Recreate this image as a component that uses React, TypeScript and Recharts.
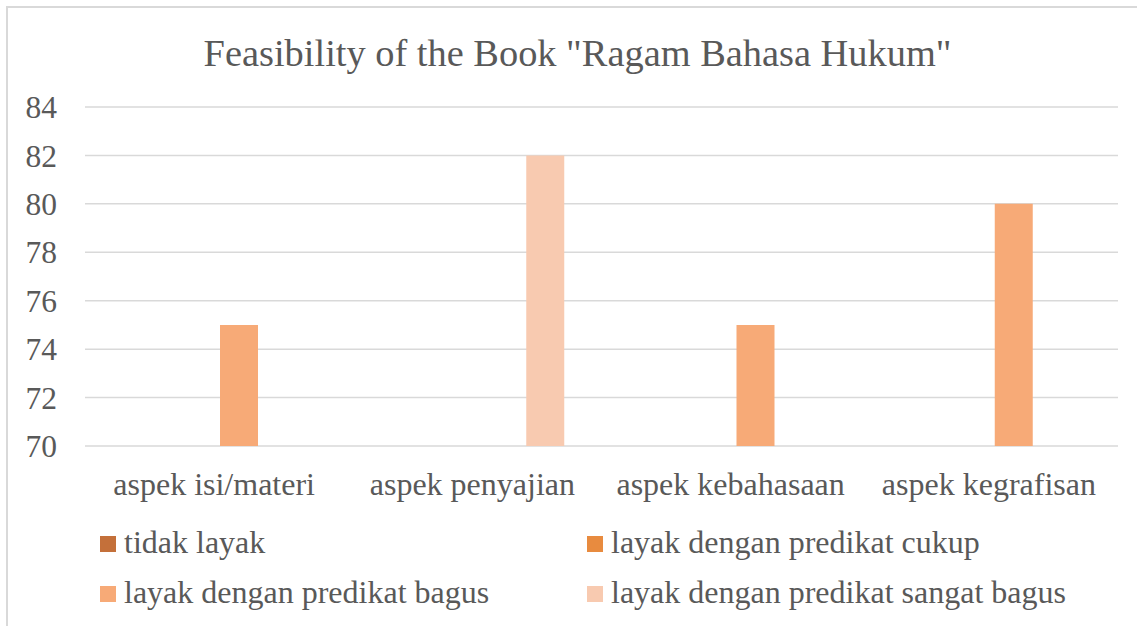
import React from 'react';
import { BarChart, Bar, XAxis, YAxis, CartesianGrid, Legend } from 'recharts';

// categories and per-series values (null = no bar in that slot)
const categories = ['aspek isi/materi', 'aspek penyajian', 'aspek kebahasaan', 'aspek kegrafisan'];
const tidakLayak: (number | null)[] = [null, null, null, null];
const cukup: (number | null)[] = [null, null, null, null];
const bagus: (number | null)[] = [75, null, 75, 80];
const sangatBagus: (number | null)[] = [null, 82, null, null];
const yTicks = [70, 72, 74, 76, 78, 80, 82, 84];

const seriesNames = [
    'tidak layak',
    'layak dengan predikat cukup',
    'layak dengan predikat bagus',
    'layak dengan predikat sangat bagus',
];
const seriesValues = [tidakLayak, cukup, bagus, sangatBagus];
const seriesColors = ['#C4703A', '#E88B3F', '#F7AA77', '#F8CAB0'];

const data = categories.map((name, i) => {
    const row: Record<string, string | number | null> = { name };
    seriesValues.forEach((vals, s) => {
        row['s' + s] = vals[i];
    });
    return row;
});

const FONT = 'Liberation Serif';
const TEXT = '#595959';

// legend laid out as 2x2 grid like the original, in series order
const LegendGrid = ({ payload }: any) => {
    const items = [...(payload || [])].sort(
        (a: any, b: any) => seriesNames.indexOf(a.value) - seriesNames.indexOf(b.value)
    );
    return (
        <div style={{ position: 'relative', width: 1137, height: 111, fontFamily: FONT }}>
            {items.map((entry: any, i: number) => {
                const col = i % 2;
                const row = Math.floor(i / 2);
                const left = col === 0 ? 100 : 587;
                const top = row * 50;
                return (
                    <React.Fragment key={i}>
                        <div
                            style={{
                                position: 'absolute',
                                left,
                                top: top + 21,
                                width: 16,
                                height: 16,
                                backgroundColor: entry.color,
                            }}
                        />
                        <div
                            style={{
                                position: 'absolute',
                                left: left + 24,
                                top: top + 12,
                                fontSize: 32,
                                lineHeight: '31px',
                                color: TEXT,
                                whiteSpace: 'nowrap',
                            }}
                        >
                            {entry.value}
                        </div>
                    </React.Fragment>
                );
            })}
        </div>
    );
};

export default function App() {
    return (
        <div
            style={{
                position: 'absolute',
                left: 0,
                top: 0,
                width: 1137,
                height: 626,
                overflow: 'hidden',
                background: '#fff',
                fontFamily: FONT,
            }}
        >
            {/* chart frame, cut off at right and bottom in the original */}
            <div
                style={{
                    position: 'absolute',
                    left: 6,
                    top: 6,
                    width: 1200,
                    height: 700,
                    border: '2px solid #D9D9D9',
                }}
            />
            <svg style={{ position: 'absolute', left: 0, top: 0 }} width={1137} height={100}>
                <text x={577.5} y={66} textAnchor="middle" fontSize={38.4} fill={TEXT} fontFamily={FONT}>
                    Feasibility of the Book "Ragam Bahasa Hukum"
                </text>
            </svg>
            <div style={{ position: 'absolute', left: 0, top: 0 }}>
                <BarChart
                    width={1137}
                    height={626}
                    data={data}
                    margin={{ top: 107, right: 19, bottom: 120, left: 0 }}
                    barCategoryGap={39}
                    barGap={10}
                >
                    <CartesianGrid vertical={false} stroke="#D9D9D9" strokeWidth={1.5} />
                    <XAxis
                        dataKey="name"
                        axisLine={false}
                        tickLine={false}
                        tickSize={0}
                        tickMargin={26}
                        height={60}
                        interval={0}
                        tick={{ fontSize: 32, fill: TEXT, fontFamily: FONT }}
                    />
                    <YAxis
                        domain={[70, 84]}
                        ticks={yTicks}
                        allowDataOverflow
                        axisLine={false}
                        tickLine={false}
                        tickSize={0}
                        tickMargin={28}
                        width={85}
                        tick={{ fontSize: 31.5, fill: TEXT, fontFamily: FONT }}
                    />
                    <Legend
                        layout="horizontal"
                        verticalAlign="middle"
                        align="center"
                        wrapperStyle={{ top: 515, left: 0, width: 1137, height: 111 }}
                        content={<LegendGrid />}
                    />
                    {seriesNames.map((name, s) => (
                        <Bar
                            key={name}
                            dataKey={'s' + s}
                            name={name}
                            fill={seriesColors[s]}
                            isAnimationActive={false}
                        />
                    ))}
                </BarChart>
            </div>
        </div>
    );
}
